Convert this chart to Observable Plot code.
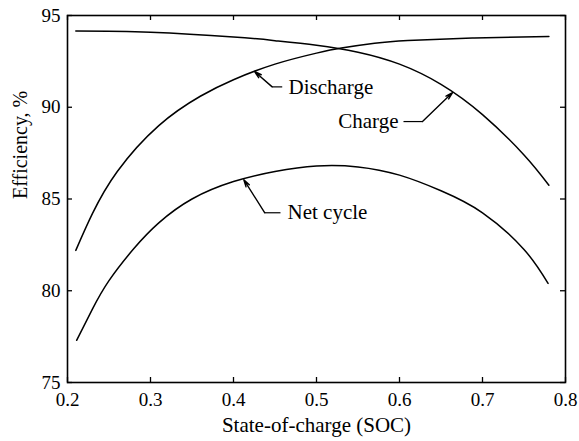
<!DOCTYPE html>
<html>
<head>
<meta charset="utf-8">
<script src="https://cdn.jsdelivr.net/npm/d3@7"></script>
<script src="https://cdn.jsdelivr.net/npm/@observablehq/plot@0.6"></script>
<style>
  html, body { margin: 0; padding: 0; background: white; }
</style>
</head>
<body>
<div id="chart"></div>
<script>
// Charge efficiency (falls with SOC)
const chargeSoc = [0.21, 0.30, 0.40, 0.45, 0.50, 0.55, 0.60, 0.65, 0.70, 0.75, 0.78];
const chargeEff = [94.15, 94.09, 93.83, 93.63, 93.38, 93.0, 92.35, 91.25, 89.6, 87.4, 85.75];

// Discharge efficiency (rises with SOC)
const dischargeSoc = [0.21, 0.23, 0.26, 0.31, 0.36, 0.40, 0.45, 0.50, 0.53, 0.57, 0.61, 0.69, 0.78];
const dischargeEff = [82.2, 84.2, 86.5, 89.0, 90.6, 91.5, 92.35, 92.95, 93.23, 93.49, 93.64, 93.77, 93.86];

// Net cycle efficiency
const netSoc = [0.211, 0.23, 0.25, 0.28, 0.31, 0.35, 0.40, 0.45, 0.50, 0.55, 0.60, 0.65, 0.70, 0.75, 0.779];
const netEff = [77.3, 79.0, 80.55, 82.3, 83.7, 85.0, 85.95, 86.5, 86.8, 86.75, 86.3, 85.45, 84.25, 82.25, 80.4];

// Axis ticks
const xTicks = [0.2, 0.3, 0.4, 0.5, 0.6, 0.7, 0.8];
const yTicks = [75, 80, 85, 90, 95];
const xLabel = "State-of-charge (SOC)";
const yLabel = "Efficiency, %";

// Annotations (data coordinates)
const annLabels = ["Discharge", "Charge", "Net cycle"];
const annTipSoc = [0.4253, 0.6639, 0.4124];
const annTipEff = [91.95, 90.80, 86.05];
const annBendSoc = [0.4466, 0.6277, 0.4377];
const annBendEff = [91.11, 89.22, 84.25];
const annLeadSoc = [0.4587, 0.6048, 0.4566];
const annTextSoc = [0.4663, 0.5988, 0.4651];
const annTextAnchor = ["start", "end", "start"];

const toRows = (xs, ys) => xs.map((x, i) => ({soc: x, eff: ys[i]}));
const charge = toRows(chargeSoc, chargeEff);
const discharge = toRows(dischargeSoc, dischargeEff);
const net = toRows(netSoc, netEff);
const ann = annLabels.map((t, i) => ({
  label: t, tx: annTipSoc[i], ty: annTipEff[i], bx: annBendSoc[i], by: annBendEff[i],
  lx: annLeadSoc[i], txtx: annTextSoc[i], anchor: annTextAnchor[i]
}));
const annStart = ann.filter(d => d.anchor === "start");
const annEnd = ann.filter(d => d.anchor === "end");

const W = 579, H = 441, mT = 15, mR = 14, mB = 59, mL = 67;
const innerW = W - mL - mR, innerH = H - mT - mB, tk = 5;

const chart = Plot.plot({
  width: W, height: H,
  marginTop: mT, marginRight: mR, marginBottom: mB, marginLeft: mL,
  style: {fontFamily: "'Liberation Serif', serif", background: "white", color: "black"},
  x: {domain: [0.2, 0.8]},
  y: {domain: [75, 95]},
  marks: [
    Plot.axisX({ticks: xTicks, tickSize: 0, tickPadding: 10, tickFormat: d3.format(".1f"), fontSize: 19, label: null}),
    Plot.axisY({ticks: yTicks, tickSize: 0, tickPadding: 7, fontSize: 19, label: null}),
    Plot.ruleX(xTicks, {x: d => d, insetTop: innerH - tk, strokeWidth: 1.3}),
    Plot.ruleX(xTicks, {x: d => d, insetBottom: innerH - tk, strokeWidth: 1.3}),
    Plot.ruleY(yTicks, {y: d => d, insetRight: innerW - tk, strokeWidth: 1.3}),
    Plot.ruleY(yTicks, {y: d => d, insetLeft: innerW - tk, strokeWidth: 1.3}),
    Plot.frame({stroke: "black", strokeWidth: 1.6}),
    Plot.line(charge, {x: "soc", y: "eff", curve: "natural", stroke: "black", strokeWidth: 1.5}),
    Plot.line(discharge, {x: "soc", y: "eff", curve: "natural", stroke: "black", strokeWidth: 1.5}),
    Plot.line(net, {x: "soc", y: "eff", curve: "natural", stroke: "black", strokeWidth: 1.5}),
    Plot.link(ann, {x1: "bx", y1: "by", x2: "lx", y2: "by", stroke: "black", strokeWidth: 1.2}),
    Plot.arrow(ann, {x1: "bx", y1: "by", x2: "tx", y2: "ty", stroke: "black", strokeWidth: 1.4, headLength: 8, headAngle: 30}),
    Plot.text(annStart, {x: "txtx", y: "by", text: "label", textAnchor: "start", lineAnchor: "middle", fontSize: 21, fill: "black"}),
    Plot.text(annEnd, {x: "txtx", y: "by", text: "label", textAnchor: "end", lineAnchor: "middle", fontSize: 21, fill: "black"}),
    Plot.text([xLabel], {frameAnchor: "bottom", lineAnchor: "middle", dy: 43, text: d => d, fontSize: 21, fill: "black"}),
    Plot.text([yLabel], {frameAnchor: "left", lineAnchor: "middle", dx: -47, rotate: -90, text: d => d, fontSize: 20, fill: "black"})
  ]
});
document.getElementById("chart").append(chart);
</script>
</body>
</html>
